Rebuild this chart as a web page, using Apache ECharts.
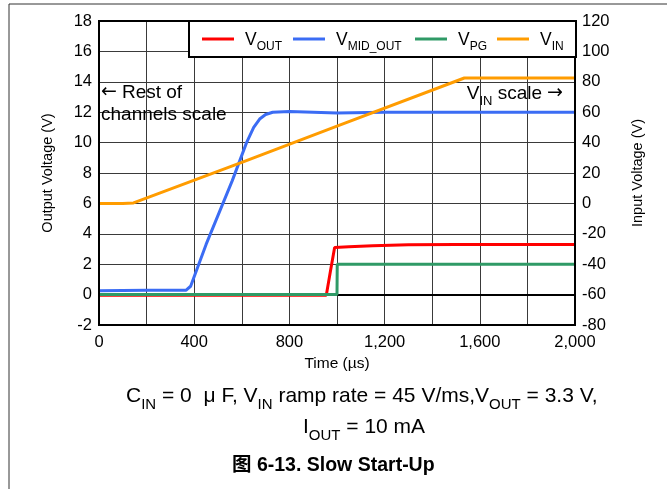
<!DOCTYPE html>
<html><head><meta charset="utf-8">
<script src="https://cdn.jsdelivr.net/npm/echarts@6/dist/echarts.min.js"></script>
<style>html,body{margin:0;padding:0;background:#fff}#c{width:667px;height:489px}</style>
</head><body><div id="c"></div>
<script>
// ---- data (time in µs) ----
const xTicks = [0, 400, 800, 1200, 1600, 2000];
const leftTicks = [-2, 0, 2, 4, 6, 8, 10, 12, 14, 16, 18];
const rightTicks = [-80, -60, -40, -20, 0, 20, 40, 60, 80, 100, 120];

const vOutTime = [0, 500, 955, 972, 990, 1050, 1150, 1300, 1500, 2000];
const vOutVal  = [-0.05, -0.05, -0.05, 1.5, 3.1, 3.15, 3.22, 3.28, 3.3, 3.3];

const vMidTime = [0, 200, 365, 385, 450, 560, 620, 650, 675, 700, 730, 800, 1000, 1200, 1500, 2000];
const vMidVal  = [0.25, 0.28, 0.28, 0.55, 3.3, 7.5, 10.0, 11.0, 11.55, 11.85, 12.0, 12.05, 11.95, 12.0, 12.0, 12.0];

const vPgTime = [0, 500, 1000, 1001, 1500, 2000];
const vPgVal  = [0, 0, 0, 2.0, 2.0, 2.0];

const vInTime = [0, 100, 145, 600, 1000, 1535, 1700, 2000];
const vInVal  = [0, 0, 0.3, 27.0, 50.8, 82.5, 82.5, 82.5];

const seriesNames = ['VOUT', 'VMID_OUT', 'VPG', 'VIN'];
const seriesSubs = { VOUT: 'OUT', VMID_OUT: 'MID_OUT', VPG: 'PG', VIN: 'IN' };
const colors = ['#ff0000', '#3b6cf4', '#2f9a66', '#ff9c00'];

const zip = (t, v) => t.map((x, i) => [x, v[i]]);

const FONT = '"Liberation Sans", Arial, sans-serif';
const chart = echarts.init(document.getElementById('c'), null, { renderer: 'canvas' });

const lineSeries = (name, data, color, yIndex) => ({
  name, type: 'line', data, yAxisIndex: yIndex, showSymbol: false, symbol: 'none',
  lineStyle: { color, width: 3 }, itemStyle: { color }, animation: false, z: 3
});

const legendLefts = [202, 293, 415, 497];
const legends = seriesNames.map((n, i) => ({
  data: [n], left: legendLefts[i], top: 31, padding: 0, itemWidth: 32, itemHeight: 3,
  icon: 'rect', z: 10, selectedMode: false,
  formatter: nm => '{v|V}{s|' + seriesSubs[nm] + '}',
  textStyle: {
    padding: [0, 0, 0, 6],
    rich: {
      v: { fontSize: 17.5, fontFamily: FONT, color: '#000', verticalAlign: 'bottom', lineHeight: 20 },
      s: { fontSize: 12, fontFamily: FONT, color: '#000', verticalAlign: 'bottom', lineHeight: 20, padding: [0, 0, -4, 0] }
    }
  }
}));

const subRich = (big, small, lh) => ({
  v: { fontSize: big, fontFamily: FONT, verticalAlign: 'bottom', lineHeight: lh },
  s: { fontSize: small, fontFamily: FONT, verticalAlign: 'bottom', lineHeight: lh, padding: [0, 0, -5, 0] },
  al: { fontSize: big, fontFamily: '"DejaVu Sans"', verticalAlign: 'bottom', lineHeight: lh, padding: [0, 5, 0, 0] },
  ar: { fontSize: big, fontFamily: '"DejaVu Sans"', verticalAlign: 'bottom', lineHeight: lh, padding: [0, 0, 0, 5] }
});

chart.setOption({
  animation: false,
  textStyle: { fontFamily: FONT },
  grid: { left: 99, right: 92, top: 21, bottom: 164, show: true, borderColor: '#000', borderWidth: 2, z: 5 },
  legend: legends,
  xAxis: {
    type: 'value', min: 0, max: 2000, interval: 200,
    name: 'Time (µs)', nameLocation: 'middle', nameGap: 25,
    nameTextStyle: { fontSize: 15.5, color: '#000', fontFamily: FONT },
    axisLine: { lineStyle: { color: '#000', width: 2 } },
    axisTick: { show: false },
    axisLabel: { fontSize: 16.5, color: '#000', margin: 9, fontFamily: FONT,
      formatter: v => xTicks.includes(v) ? v.toLocaleString('en-US') : '' },
    splitLine: { show: true, lineStyle: { color: '#3a3a3a', width: 1 } }
  },
  yAxis: [
    { type: 'value', min: -2, max: 18, interval: 2, position: 'left',
      name: 'Output Voltage (V)', nameLocation: 'middle', nameGap: 44, nameRotate: 90,
      nameTextStyle: { fontSize: 14.5, color: '#000', fontFamily: FONT },
      axisLine: { show: true, lineStyle: { color: '#000', width: 2 } },
      axisTick: { show: false },
      axisLabel: { fontSize: 16.5, color: '#000', margin: 7, fontFamily: FONT,
        formatter: v => leftTicks.includes(v) ? String(v) : '' },
      splitLine: { show: true, lineStyle: { color: '#3a3a3a', width: 1 } } },
    { type: 'value', min: -80, max: 120, interval: 20, position: 'right',
      name: 'Input Voltage (V)', nameLocation: 'middle', nameGap: 55, nameRotate: 90,
      nameTextStyle: { fontSize: 14.5, color: '#000', fontFamily: FONT },
      axisLine: { show: true, lineStyle: { color: '#000', width: 2 } },
      axisTick: { show: false },
      axisLabel: { fontSize: 16.5, color: '#000', margin: 7, fontFamily: FONT,
        formatter: v => rightTicks.includes(v) ? String(v) : '' },
      splitLine: { show: false } }
  ],
  series: [
    lineSeries('VOUT', zip(vOutTime, vOutVal), colors[0], 0),
    lineSeries('VMID_OUT', zip(vMidTime, vMidVal), colors[1], 0),
    lineSeries('VPG', zip(vPgTime, vPgVal), colors[2], 0),
    lineSeries('VIN', zip(vInTime, vInVal), colors[3], 1)
  ],
  graphic: [
    { type: 'line', shape: { x1: 9, y1: 4, x2: 9, y2: 489 }, style: { stroke: '#333', lineWidth: 1 }, z: 1 },
    { type: 'line', shape: { x1: 9, y1: 4, x2: 667, y2: 4 }, style: { stroke: '#333', lineWidth: 1 }, z: 1 },
    { type: 'rect', shape: { x: 189, y: 21, width: 387, height: 36 }, style: { fill: '#fff', stroke: '#000', lineWidth: 2 }, z: 8 },
    { type: 'text', left: 101, top: 83, z: 6, style: {
        text: '{al|←}{v|Rest of}\n{v|channels scale}', fill: '#000', rich: subRich(19, 13, 22) } },
    { type: 'text', right: 104, top: 84, z: 6, style: {
        text: '{v|V}{s|IN}{v| scale}{ar|→}', fill: '#000', rich: subRich(19, 13, 22) } },
    { type: 'text', left: 126, top: 386, z: 6, style: {
        text: '{v|C}{s|IN}{v| = 0  μ F, V}{s|IN}{v| ramp rate = 45 V/ms,V}{s|OUT}{v| = 3.3 V,}', fill: '#000',
        rich: subRich(21, 15, 24) } },
    { type: 'text', left: 303, top: 417, z: 6, style: {
        text: '{v|I}{s|OUT}{v| = 10 mA}', fill: '#000', rich: subRich(21, 15, 24) } },
    { type: 'text', left: 232, top: 456, z: 6, style: { text: '图 6-13. Slow Start-Up', font: 'bold 19.5px "Liberation Sans", "Noto Sans CJK SC", sans-serif', fill: '#000' } }
  ]
});
</script></body></html>
